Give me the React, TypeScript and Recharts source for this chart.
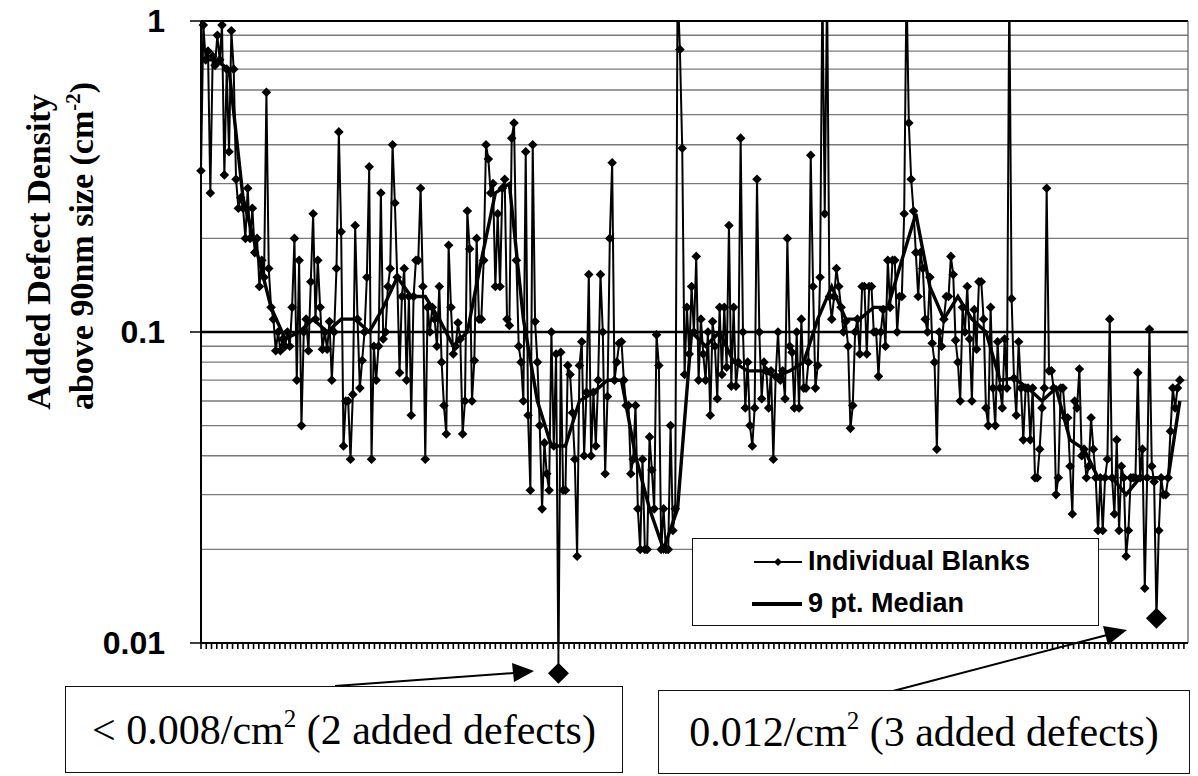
import React from 'react';
import { LineChart, Line, XAxis, YAxis, ReferenceLine, ReferenceDot, Legend } from 'recharts';

// added defect density per blank (cm^-2), in run order
const blanks = [
  0.33, 0.97, 0.75, 0.8, 0.28, 0.77, 0.72, 0.9, 0.75, 0.97,
  0.32, 0.7, 0.38, 0.93, 0.7, 0.31, 0.25, 0.27, 0.25, 0.2,
  0.29, 0.2, 0.25, 0.18, 0.2, 0.14, 0.17, 0.15, 0.59, 0.16,
  0.12, 0.11, 0.087, 0.1, 0.087, 0.095, 0.09, 0.1, 0.09, 0.12,
  0.2, 0.07, 0.17, 0.05, 0.1, 0.11, 0.087, 0.145, 0.24, 0.11,
  0.17, 0.12, 0.088, 0.1, 0.088, 0.108, 0.07, 0.1, 0.16, 0.44,
  0.21, 0.043, 0.06, 0.06, 0.039, 0.063, 0.22, 0.11, 0.066, 0.081,
  0.1, 0.15, 0.34, 0.039, 0.09, 0.07, 0.09, 0.28, 0.095, 0.1,
  0.14, 0.16, 0.4, 0.26, 0.15, 0.074, 0.13, 0.16, 0.07, 0.13,
  0.054, 0.13, 0.17, 0.17, 0.29, 0.14, 0.039, 0.12, 0.1, 0.12,
  0.11, 0.09, 0.14, 0.08, 0.058, 0.047, 0.19, 0.12, 0.085, 0.09,
  0.107, 0.095, 0.047, 0.06, 0.245, 0.185, 0.06, 0.081, 0.2, 0.11,
  0.11, 0.17, 0.4, 0.36, 0.28, 0.3, 0.14, 0.24, 0.14, 0.29,
  0.31, 0.11, 0.105, 0.42, 0.47, 0.17, 0.09, 0.08, 0.06, 0.38,
  0.054, 0.031, 0.4, 0.108, 0.08, 0.05, 0.027, 0.044, 0.035, 0.031,
  0.1, 0.043, 0.085, 0.008, 0.086, 0.031, 0.031, 0.078, 0.073, 0.055,
  0.039, 0.019, 0.078, 0.093, 0.04, 0.064, 0.153, 0.04, 0.064, 0.043,
  0.07, 0.153, 0.1, 0.035, 0.062, 0.2, 0.35, 0.07, 0.08, 0.092,
  0.093, 0.07, 0.058, 0.058, 0.035, 0.039, 0.058, 0.027, 0.02, 0.039,
  0.02, 0.02, 0.046, 0.036, 0.027, 0.098, 0.078, 0.02, 0.027, 0.02,
  0.02, 0.05, 0.023, 0.027, 1.3, 0.81, 0.39, 0.073, 0.12, 0.085,
  0.14, 0.1, 0.175, 0.07, 0.11, 0.085, 0.07, 0.1, 0.054, 0.108,
  0.09, 0.061, 0.12, 0.073, 0.12, 0.077, 0.22, 0.067, 0.12, 0.067,
  0.08, 0.42, 0.1, 0.057, 0.08, 0.05, 0.043, 0.057, 0.31, 0.1,
  0.061, 0.08, 0.075, 0.057, 0.075, 0.039, 0.072, 0.1, 0.07, 0.075,
  0.061, 0.2, 0.09, 0.086, 0.057, 0.1, 0.057, 0.11, 0.066, 0.066,
  0.08, 0.37, 0.14, 0.066, 0.078, 0.15, 1.3, 0.24, 1.3, 0.13,
  0.11, 0.13, 0.16, 0.14, 0.12, 0.1, 0.108, 0.09, 0.049, 0.058,
  0.1, 0.11, 0.085, 0.14, 0.14, 0.085, 0.14, 0.14, 0.1, 0.1,
  0.072, 0.1, 0.118, 0.09, 0.17, 0.12, 0.17, 0.17, 0.1, 0.13,
  0.13, 0.24, 1.3, 0.47, 0.31, 0.245, 0.18, 0.13, 0.18, 0.16,
  0.11, 0.1, 0.15, 0.092, 0.08, 0.042, 0.1, 0.09, 0.11, 0.13,
  0.13, 0.175, 0.153, 0.094, 0.08, 0.06, 0.12, 0.1, 0.14, 0.095,
  0.06, 0.118, 0.088, 0.145, 0.145, 0.11, 0.057, 0.05, 0.12, 0.066,
  0.05, 0.093, 0.066, 0.057, 0.095, 0.066, 1.3, 0.128, 0.071, 0.054,
  0.093, 0.066, 0.045, 0.066, 0.066, 0.045, 0.066, 0.034, 0.034, 0.042,
  0.057, 0.066, 0.29, 0.075, 0.075, 0.066, 0.03, 0.034, 0.066, 0.066,
  0.053, 0.053, 0.037, 0.026, 0.06, 0.057, 0.076, 0.04, 0.042, 0.034,
  0.037, 0.053, 0.042, 0.034, 0.023, 0.034, 0.023, 0.034, 0.039, 0.11,
  0.034, 0.026, 0.045, 0.023, 0.037, 0.034, 0.019, 0.023, 0.034, 0.034,
  0.034, 0.074, 0.034, 0.042, 0.015, 0.034, 0.102, 0.037, 0.033, 0.012,
  0.023, 0.034, 0.03, 0.03, 0.034, 0.048, 0.066, 0.057, 0.066, 0.07,
];

// 9 pt median: [blank index, value]
const median = [
  [0, 0.75], [6, 0.75], [12, 0.7], [18, 0.27], [24, 0.18], [30, 0.12], [36, 0.095],
  [42, 0.1], [48, 0.11], [54, 0.1], [60, 0.11], [66, 0.11], [72, 0.1], [78, 0.12],
  [84, 0.15], [90, 0.13], [96, 0.13], [102, 0.11], [108, 0.09], [114, 0.1], [120, 0.17],
  [126, 0.28], [132, 0.3], [138, 0.11], [144, 0.06], [150, 0.043], [156, 0.043], [162, 0.06],
  [168, 0.064], [174, 0.07], [180, 0.07], [186, 0.04], [192, 0.027], [198, 0.02], [204, 0.027],
  [210, 0.1], [216, 0.09], [222, 0.1], [228, 0.08], [234, 0.075], [240, 0.075], [246, 0.072],
  [252, 0.075], [258, 0.08], [264, 0.11], [270, 0.14], [276, 0.11], [282, 0.11], [288, 0.12],
  [294, 0.12], [300, 0.17], [306, 0.24], [312, 0.14], [318, 0.11], [324, 0.13], [330, 0.11],
  [336, 0.1], [342, 0.07], [348, 0.071], [354, 0.066], [360, 0.06], [366, 0.066], [372, 0.045],
  [378, 0.042], [384, 0.034], [390, 0.034], [396, 0.03], [402, 0.034], [408, 0.034], [414, 0.034],
  [419, 0.06],
];

// blanks called out below the plot
const noted = [153, 409];

const yTicks = [0.01, 0.1, 1];
const gridValues = [0.02, 0.03, 0.04, 0.05, 0.06, 0.07, 0.08, 0.09, 0.2, 0.3, 0.4, 0.5, 0.6, 0.7, 0.8, 0.9];
const xMax = 422.5;
const xTicks = Array.from({ length: 188 }, (_, k) => k * 2.25);

const medianMap = new Map(median.map(([i, v]) => [i, v]));
const data = blanks.map((v, i) => ({ i, blank: v, median: medianMap.has(i) ? medianMap.get(i) : null }));

const SANS = '"Liberation Sans", Arial, sans-serif';
const SERIF = '"Liberation Serif", "Times New Roman", serif';

const Diamond = (props: any) => {
  const { cx, cy, index } = props;
  if (cx == null || cy == null) return <g key={index} />;
  const s = 4.8;
  return (
    <polygon key={index} points={`${cx},${cy - s} ${cx + s},${cy} ${cx},${cy + s} ${cx - s},${cy}`} fill="#000" />
  );
};

const BigDiamond = (props: any) => {
  const { cx, cy } = props;
  const s = 10.5;
  return <polygon points={`${cx},${cy - s} ${cx + s},${cy} ${cx},${cy + s} ${cx - s},${cy}`} fill="#000" />;
};

const renderLegend = () => (
  <div
    style={{
      width: 407,
      height: 88,
      border: '1.5px solid #111',
      background: '#fff',
      fontFamily: SANS,
      fontWeight: 700,
      fontSize: 27,
      color: '#000',
      boxSizing: 'border-box',
    }}
  >
    <div style={{ position: 'absolute', left: 60, top: 8, display: 'flex', alignItems: 'center' }}>
      <svg width={52} height={16}>
        <line x1={2} y1={8} x2={50} y2={8} stroke="#000" strokeWidth={2} />
        <polygon points="26,4 30,8 26,12 22,8" fill="#000" />
      </svg>
      <span style={{ marginLeft: 4 }}>Individual Blanks</span>
    </div>
    <div style={{ position: 'absolute', left: 60, top: 50, display: 'flex', alignItems: 'center' }}>
      <svg width={52} height={16}>
        <line x1={0} y1={8} x2={50} y2={8} stroke="#000" strokeWidth={4} />
      </svg>
      <span style={{ marginLeft: 4 }}>9 pt. Median</span>
    </div>
  </div>
);

const boxStyle: React.CSSProperties = {
  position: 'absolute',
  border: '1.5px solid #111',
  background: '#fff',
  fontFamily: SERIF,
  fontSize: 42,
  color: '#000',
  boxSizing: 'border-box',
  display: 'flex',
  alignItems: 'center',
  justifyContent: 'center',
  whiteSpace: 'nowrap',
};

const App = () => {
  return (
    <div style={{ position: 'absolute', left: 0, top: 0, width: 1198, height: 776, background: '#fff' }}>
      <LineChart width={1198} height={776} data={data} margin={{ top: 21, right: 10, bottom: 15, left: 121 }}>
        {gridValues.map((g) => (
          <ReferenceLine key={g} y={g} stroke="#7a7a7a" strokeWidth={1.3} />
        ))}
        <ReferenceLine y={0.1} stroke="#000" strokeWidth={2.4} />
        <ReferenceLine y={1} stroke="#000" strokeWidth={2.2} />
        <ReferenceLine x={xMax} stroke="#555" strokeWidth={1.2} />
        <XAxis
          type="number"
          dataKey="i"
          domain={[0, xMax]}
          ticks={xTicks}
          interval={0}
          tickFormatter={() => ''}
          tickSize={6}
          height={30}
          axisLine={{ stroke: '#000', strokeWidth: 2 }}
          tickLine={{ stroke: '#000', strokeWidth: 1.6 }}
        />
        <YAxis
          type="number"
          scale="log"
          domain={[0.01, 1]}
          allowDataOverflow
          ticks={yTicks}
          interval={0}
          width={80}
          tickSize={11}
          tickMargin={25}
          tickFormatter={(v: number) => String(v)}
          tick={{ fill: '#000', fontFamily: SANS, fontWeight: 700, fontSize: 32 }}
          axisLine={{ stroke: '#000', strokeWidth: 2 }}
          tickLine={{ stroke: '#000', strokeWidth: 1.5 }}
        />
        <Line
          dataKey="blank"
          stroke="#000"
          strokeWidth={2}
          dot={Diamond}
          activeDot={false}
          isAnimationActive={false}
          name="Individual Blanks"
        />
        <Line
          dataKey="median"
          stroke="#000"
          strokeWidth={3.4}
          dot={false}
          activeDot={false}
          connectNulls
          isAnimationActive={false}
          name="9 pt. Median"
        />
        <ReferenceLine
          segment={[{ x: noted[0], y: 0.01 }, { x: noted[0], y: blanks[noted[0]] }]}
          stroke="#000"
          strokeWidth={2}
          ifOverflow="visible"
        />
        {noted.map((i) => (
          <ReferenceDot key={i} x={i} y={blanks[i]} r={10} shape={BigDiamond} ifOverflow="visible" />
        ))}
        <Legend
          content={renderLegend}
          wrapperStyle={{ position: 'absolute', left: 692, top: 538, width: 407, height: 88 }}
        />
      </LineChart>

      <svg width={1198} height={776} style={{ position: 'absolute', left: 0, top: 0, pointerEvents: 'none' }}>
        <text
          transform="translate(50,252) rotate(-90)"
          textAnchor="middle"
          fontFamily={SERIF}
          fontWeight={700}
          fontSize={34}
          fill="#000"
        >
          Added Defect Density
        </text>
        <text
          transform="translate(93,246) rotate(-90)"
          textAnchor="middle"
          fontFamily={SERIF}
          fontWeight={700}
          fontSize={34}
          fill="#000"
        >
          above 90nm size (cm
          <tspan dy={-13} fontSize={21}>-2</tspan>
          <tspan dy={13}>)</tspan>
        </text>
        <line x1={335} y1={686} x2={514} y2={673} stroke="#000" strokeWidth={2} />
        <polygon points="534,671 512,663 514,682" fill="#000" />
        <line x1={893} y1={691} x2={1107} y2={635} stroke="#000" strokeWidth={2} />
        <polygon points="1127,630 1103,626 1108,645" fill="#000" />
      </svg>

      <div style={{ ...boxStyle, left: 65, top: 686, width: 558, height: 87 }}>
        <span>
          {'< 0.008/cm'}
          <sup style={{ fontSize: 25, verticalAlign: 'top', lineHeight: 1 }}>2</sup>
          {' (2 added defects)'}
        </span>
      </div>
      <div style={{ ...boxStyle, left: 658, top: 690, width: 532, height: 84 }}>
        <span>
          {'0.012/cm'}
          <sup style={{ fontSize: 25, verticalAlign: 'top', lineHeight: 1 }}>2</sup>
          {' (3 added defects)'}
        </span>
      </div>
    </div>
  );
};

export default App;
